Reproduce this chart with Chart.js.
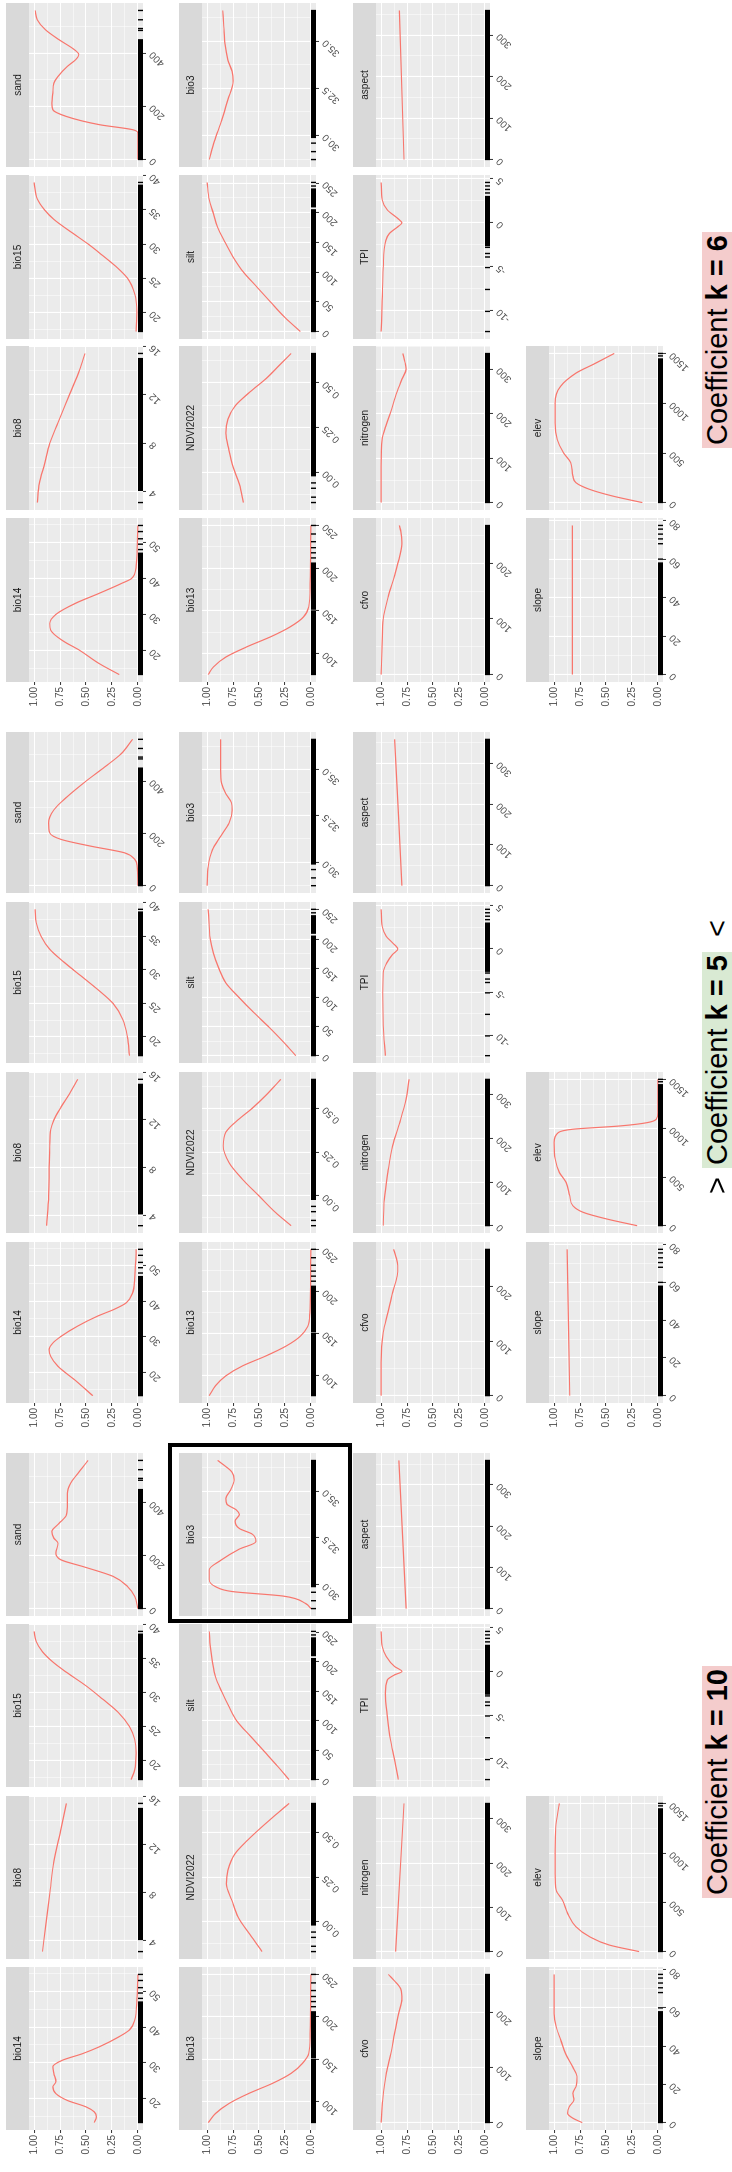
<!DOCTYPE html>
<html><head><meta charset="utf-8">
<script src="https://cdn.jsdelivr.net/npm/chart.js@4.4.1/dist/chart.umd.min.js"></script>
<style>
html,body{margin:0;padding:0;background:#fff;}
body{width:732px;height:2172px;position:relative;overflow:hidden;}
#fig{position:absolute;left:0;top:0;width:2172px;height:732px;transform-origin:0 0;transform:translate(0px,2172px) rotate(-90deg);background:#fff;font-family:"Liberation Sans",Arial,Helvetica,sans-serif;}
#fig canvas{position:absolute;}
.lab{position:absolute;top:702px;height:30px;line-height:30px;font-size:29px;color:#000;white-space:nowrap;padding:0 3px;}
.arrow{position:absolute;top:702px;height:30px;line-height:30px;font-size:29px;color:#000;}
#hl{position:absolute;border:4px solid #000;box-sizing:border-box;}
</style></head>
<body><div id="fig"></div>
<script>
// ---------- panel variables (facet order, row by row) ----------
const variables = ['bio14','bio8','bio15','sand','bio13','NDVI2022','silt','bio3','cfvo','nitrogen','TPI','aspect','slope','elev'];
const dataMin = [13.3, 3.1, 17.2, 0, 75.5, -0.17, 0, 28.73, 0, 0, -12.4, 0, 0, 0];
const dataMax = [54.7, 15.42, 39.0, 560, 250, 0.665, 251, 36.63, 268, 335, 4.6, 359, 77.5, 1505];

// ---------- x tick values and labels ----------
const tick_bio14 = [20,30,40,50];            const tlab_bio14 = ['20','30','40','50'];
const tick_bio8 = [4,8,12,16];               const tlab_bio8 = ['4','8','12','16'];
const tick_bio15 = [20,25,30,35,40];         const tlab_bio15 = ['20','25','30','35','40'];
const tick_sand = [0,200,400];               const tlab_sand = ['0','200','400'];
const tick_bio13 = [100,150,200,250];        const tlab_bio13 = ['100','150','200','250'];
const tick_NDVI2022 = [0,0.25,0.5];          const tlab_NDVI2022 = ['0.00','0.25','0.50'];
const tick_silt = [0,50,100,150,200,250];    const tlab_silt = ['0','50','100','150','200','250'];
const tick_bio3 = [30,32.5,35];              const tlab_bio3 = ['30.0','32.5','35.0'];
const tick_cfvo = [0,100,200];               const tlab_cfvo = ['0','100','200'];
const tick_nitrogen = [0,100,200,300];       const tlab_nitrogen = ['0','100','200','300'];
const tick_TPI = [-10,-5,0,5];               const tlab_TPI = ['-10','-5','0','5'];
const tick_aspect = [0,100,200,300];         const tlab_aspect = ['0','100','200','300'];
const tick_slope = [0,20,40,60,80];          const tlab_slope = ['0','20','40','60','80'];
const tick_elev = [0,500,1000,1500];         const tlab_elev = ['0','500','1000','1500'];
const yTickValues = [0,0.25,0.5,0.75,1];
const yTickLabels = ['0.00','0.25','0.50','0.75','1.00'];

// ---------- rug (observations): solid runs and isolated values ----------
const rugRun_bio14 = [[13.3,47]];            const rugPt_bio14 = [48,49.5,51,53,54.7];
const rugRun_bio8 = [[4.1,15.0]];            const rugPt_bio8 = [3.1,15.42];
const rugRun_bio15 = [[17.2,38.6]];          const rugPt_bio15 = [39.0];
const rugRun_sand = [[0,450]];               const rugPt_sand = [485,492,525,560];
const rugRun_bio13 = [[75.5,150],[152,206]]; const rugPt_bio13 = [212,218,224,231,240,250];
const rugRun_NDVI2022 = [[-0.02,0.665]];     const rugPt_NDVI2022 = [-0.17,-0.14,-0.09,-0.06];
const rugRun_silt = [[0,205],[210,240]];     const rugPt_silt = [245,251];
const rugRun_bio3 = [[29.9,36.63]];          const rugPt_bio3 = [28.73,29.15,29.6];
const rugRun_cfvo = [[0,268]];               const rugPt_cfvo = [];
const rugRun_nitrogen = [[0,335]];           const rugPt_nitrogen = [];
const rugRun_TPI = [[-2.6,3.0]];             const rugPt_TPI = [-12.4,-10.1,-7.6,-5.1,-3.9,-3.5,-2.8,3.4,3.8,4.2,4.6];
const rugRun_aspect = [[0,359]];             const rugPt_aspect = [];
const rugRun_slope = [[0,58]];               const rugPt_slope = [60,68,70.5,73,75.6,77.5];
const rugRun_elev = [[0,1450]];              const rugPt_elev = [1480,1505];

// ---------- response curves: Coefficient k = 10 ----------
const k10_bio14_x = [13.3,14.9,16.3,17.7,19.5,21.4,23.3,24.7,27,28.9,30.7,32.6,34.5,37.3,39.2,42,47.6,54.7];
const k10_bio14_y = [.42,.40,.42,.50,.68,.79,.82,.79,.81,.82,.73,.53,.37,.18,.08,.03,.01,0];
const k10_bio8_x = [3.1,5.2,7.9,10.6,13.35,15.42];
const k10_bio8_y = [.92,.89,.85,.81,.74,.69];
const k10_bio15_x = [17.2,18.6,21.1,23.1,25,27.1,29.05,31,33,34.5,36,37.5,39.0];
const k10_bio15_y = [.065,.03,.016,.03,.08,.19,.34,.50,.69,.82,.92,.98,1.0];
const k10_sand_x = [0,46,84,122,159,184,210,247,266,291,322,354,398,435,473,510,560];
const k10_sand_y = [0,.03,.10,.24,.53,.74,.79,.77,.81,.83,.76,.69,.68,.68,.65,.58,.48];
const k10_bio13_x = [75.5,86.2,98,109.8,121.7,133.5,145.3,157,180.7,250];
const k10_bio13_y = [.99,.92,.79,.60,.37,.19,.08,.02,.006,0];
const k10_NDVI2022_x = [-0.17,-0.072,0.023,0.117,0.212,0.288,0.383,0.458,0.534,0.61,0.665];
const k10_NDVI2022_y = [.47,.59,.70,.76,.815,.80,.73,.61,.47,.32,.21];
const k10_silt_x = [0,22.5,47.8,73,98.3,123.6,149,174,199.4,224.7,251];
const k10_silt_y = [.21,.32,.45,.58,.71,.79,.86,.92,.95,.97,.98];
const k10_bio3_x = [28.73,29.0,29.4,29.64,29.9,30.27,30.8,31.3,31.9,32.3,32.7,33.0,33.4,33.75,34.0,34.3,34.6,35.1,35.6,36.0,36.3,36.63];
const k10_bio3_y = [0,.05,.27,.76,.92,.98,.98,.87,.69,.53,.565,.69,.73,.69,.72,.81,.82,.77,.74,.76,.82,.90];
const k10_cfvo_x = [0,41,90,126,162,199,223,241,256,268];
const k10_cfvo_y = [1,.985,.95,.905,.87,.83,.80,.81,.87,.93];
const k10_nitrogen_x = [0,335];
const k10_nitrogen_y = [.86,.78];
const k10_TPI_x = [-12.4,-10.15,-7.85,-5.2,-2.5,-0.96,-0.38,0,0.57,1.72,2.87,4.6];
const k10_TPI_y = [.835,.87,.91,.94,.96,.94,.87,.80,.87,.95,.99,1];
const k10_aspect_x = [0,359];
const k10_aspect_y = [.76,.83];
const k10_slope_x = [0,2.3,4.9,8.3,11.8,15.3,19.6,24,29,36,43,50,57,77.5];
const k10_slope_y = [.73,.82,.87,.855,.81,.82,.785,.78,.82,.89,.935,.98,1.0,1.0];
const k10_elev_x = [0,67,152,253,388,522,623,792,1028,1264,1505];
const k10_elev_y = [.18,.47,.66,.79,.87,.92,.98,.99,.99,.985,.95];

// ---------- response curves: Coefficient k = 5 ----------
const k5_bio14_x = [13.3,17.8,21.6,24.4,26.3,28.2,30.1,33,35.8,37.7,39.6,42.4,46.2,54.7];
const k5_bio14_y = [.435,.61,.77,.84,.855,.82,.74,.58,.39,.23,.11,.05,.03,.016];
const k5_bio8_x = [3.1,5.6,8,9.8,11.2,12,13.1,14.2,15.42];
const k5_bio8_y = [.88,.86,.855,.85,.84,.81,.74,.66,.58];
const k5_bio15_x = [17.2,20,22.6,25,27.1,29.1,31.1,33.05,35,37,39.0];
const k5_bio15_y = [.08,.10,.145,.24,.39,.55,.71,.85,.935,.98,.99];
const k5_sand_x = [0,76,101,126,151,177,202,240,290,341,400,454,505,560];
const k5_sand_y = [0,.006,.03,.13,.45,.74,.85,.86,.81,.68,.50,.32,.16,.05];
const k5_bio13_x = [75.5,87.4,99.2,111,122.8,134.6,146.5,158,174,250];
const k5_bio13_y = [.98,.92,.82,.66,.435,.24,.10,.03,.01,0];
const k5_NDVI2022_x = [-0.17,-0.095,0,0.095,0.19,0.286,0.363,0.44,0.5,0.573,0.665];
const k5_NDVI2022_y = [.19,.34,.50,.66,.79,.845,.82,.69,.565,.435,.29];
const k5_silt_x = [0,22.7,48.3,73.9,99.4,125,150.6,176,199,221.6,251];
const k5_silt_y = [.145,.26,.40,.55,.69,.82,.89,.94,.97,.98,.99];
const k5_bio3_x = [28.73,29.77,30.66,31.4,32.1,32.8,33.2,33.7,34.25,34.96,36.63];
const k5_bio3_y = [1.0,.99,.95,.87,.79,.76,.765,.82,.86,.87,.87];
const k5_cfvo_x = [0,61,116,152,189,219.5,238,256,268];
const k5_cfvo_y = [1,1,.98,.935,.89,.845,.84,.86,.88];
const k5_nitrogen_x = [0,61,122,183,236.5,290,335];
const k5_nitrogen_y = [.98,.97,.935,.89,.82,.76,.73];
const k5_TPI_x = [-12.4,-8.9,-5.1,-2.8,-1.6,-0.65,0,0.7,1.46,2.6,4.6];
const k5_TPI_y = [.96,.98,.985,.98,.945,.89,.84,.89,.95,.99,1];
const k5_aspect_x = [0,359];
const k5_aspect_y = [.80,.87];
const k5_slope_x = [0,77.5];
const k5_slope_y = [.85,.875];
const k5_elev_x = [0,68,137,205,308,445,547,684,855,958,992,1026,1060,1094,1163,1505];
const k5_elev_y = [.20,.49,.72,.82,.85,.885,.95,.99,1.0,.96,.82,.36,.10,.016,0,0];

// ---------- response curves: Coefficient k = 6 ----------
const k6_bio14_x = [13.3,16.3,20,22.8,25.6,27.5,30,33.1,35.9,38.7,40,43.4,48,54.7];
const k6_bio14_y = [.18,.37,.56,.73,.84,.85,.79,.60,.37,.15,.06,.016,.006,0];
const k6_bio8_x = [3.1,4.7,6.3,8,9.7,12,14.1,15.42];
const k6_bio8_y = [.97,.95,.90,.85,.77,.66,.56,.51];
const k6_bio15_x = [17.2,20,22.7,25,26.7,28.7,30,31.6,33.6,35,36.6,39.0];
const k6_bio15_y = [.016,.01,.03,.10,.21,.37,.48,.63,.81,.90,.97,1.0];
const k6_sand_x = [0,100,112,131,162,187,212,250,287,312,350,375,394,412,450,487,525,560];
const k6_sand_y = [0,0,.048,.37,.69,.82,.83,.82,.81,.77,.68,.60,.57,.61,.76,.89,.97,.99];
const k6_bio13_x = [75.5,84.3,96,107.8,119.6,131.3,143,154.8,182,250];
const k6_bio13_y = [.99,.94,.82,.62,.39,.20,.07,.02,.006,0];
const k6_NDVI2022_x = [-0.17,-0.067,0.029,0.124,0.219,0.296,0.372,0.448,0.525,0.601,0.665];
const k6_NDVI2022_y = [.65,.69,.75,.79,.82,.80,.73,.59,.43,.30,.19];
const k6_silt_x = [0,23.8,50,75,100,125.6,151,176,199,222,251];
const k6_silt_y = [.10,.25,.39,.52,.65,.75,.83,.90,.94,.98,1.0];
const k6_bio3_x = [28.73,29.7,30.8,31.9,32.9,33.4,34.0,34.9,35.8,36.63];
const k6_bio3_y = [.98,.93,.86,.80,.75,.76,.80,.83,.84,.85];
const k6_cfvo_x = [0,56,100,141,178,214,238,257,268];
const k6_cfvo_y = [1,.99,.98,.93,.87,.82,.80,.81,.825];
const k6_nitrogen_x = [0,82,142,172,202,247,277,300,315,335];
const k6_nitrogen_y = [1,1,.99,.955,.91,.85,.80,.76,.77,.79];
const k6_TPI_x = [-12.4,-8.9,-5.1,-2.0,-1.2,-0.46,0,0.5,1.46,2.6,4.6];
const k6_TPI_y = [1,.99,.98,.955,.92,.84,.80,.84,.94,.99,1];
const k6_aspect_x = [0,359];
const k6_aspect_y = [.78,.825];
const k6_slope_x = [0,77.5];
const k6_slope_y = [.825,.825];
const k6_elev_x = [0,67,134,201,268,402,502,636,804,1005,1172,1306,1407,1505];
const k6_elev_y = [.15,.44,.66,.79,.82,.84,.91,.97,.99,.99,.94,.79,.60,.42];

// ---------- assemble lookups ----------
const xTicks = {bio14:[tick_bio14,tlab_bio14],bio8:[tick_bio8,tlab_bio8],bio15:[tick_bio15,tlab_bio15],sand:[tick_sand,tlab_sand],
  bio13:[tick_bio13,tlab_bio13],NDVI2022:[tick_NDVI2022,tlab_NDVI2022],silt:[tick_silt,tlab_silt],bio3:[tick_bio3,tlab_bio3],
  cfvo:[tick_cfvo,tlab_cfvo],nitrogen:[tick_nitrogen,tlab_nitrogen],TPI:[tick_TPI,tlab_TPI],aspect:[tick_aspect,tlab_aspect],
  slope:[tick_slope,tlab_slope],elev:[tick_elev,tlab_elev]};
const rugs = {bio14:[rugRun_bio14,rugPt_bio14],bio8:[rugRun_bio8,rugPt_bio8],bio15:[rugRun_bio15,rugPt_bio15],sand:[rugRun_sand,rugPt_sand],
  bio13:[rugRun_bio13,rugPt_bio13],NDVI2022:[rugRun_NDVI2022,rugPt_NDVI2022],silt:[rugRun_silt,rugPt_silt],bio3:[rugRun_bio3,rugPt_bio3],
  cfvo:[rugRun_cfvo,rugPt_cfvo],nitrogen:[rugRun_nitrogen,rugPt_nitrogen],TPI:[rugRun_TPI,rugPt_TPI],aspect:[rugRun_aspect,rugPt_aspect],
  slope:[rugRun_slope,rugPt_slope],elev:[rugRun_elev,rugPt_elev]};
const curves = {
  k10:{bio14:[k10_bio14_x,k10_bio14_y],bio8:[k10_bio8_x,k10_bio8_y],bio15:[k10_bio15_x,k10_bio15_y],sand:[k10_sand_x,k10_sand_y],
       bio13:[k10_bio13_x,k10_bio13_y],NDVI2022:[k10_NDVI2022_x,k10_NDVI2022_y],silt:[k10_silt_x,k10_silt_y],bio3:[k10_bio3_x,k10_bio3_y],
       cfvo:[k10_cfvo_x,k10_cfvo_y],nitrogen:[k10_nitrogen_x,k10_nitrogen_y],TPI:[k10_TPI_x,k10_TPI_y],aspect:[k10_aspect_x,k10_aspect_y],
       slope:[k10_slope_x,k10_slope_y],elev:[k10_elev_x,k10_elev_y]},
  k5:{bio14:[k5_bio14_x,k5_bio14_y],bio8:[k5_bio8_x,k5_bio8_y],bio15:[k5_bio15_x,k5_bio15_y],sand:[k5_sand_x,k5_sand_y],
       bio13:[k5_bio13_x,k5_bio13_y],NDVI2022:[k5_NDVI2022_x,k5_NDVI2022_y],silt:[k5_silt_x,k5_silt_y],bio3:[k5_bio3_x,k5_bio3_y],
       cfvo:[k5_cfvo_x,k5_cfvo_y],nitrogen:[k5_nitrogen_x,k5_nitrogen_y],TPI:[k5_TPI_x,k5_TPI_y],aspect:[k5_aspect_x,k5_aspect_y],
       slope:[k5_slope_x,k5_slope_y],elev:[k5_elev_x,k5_elev_y]},
  k6:{bio14:[k6_bio14_x,k6_bio14_y],bio8:[k6_bio8_x,k6_bio8_y],bio15:[k6_bio15_x,k6_bio15_y],sand:[k6_sand_x,k6_sand_y],
       bio13:[k6_bio13_x,k6_bio13_y],NDVI2022:[k6_NDVI2022_x,k6_NDVI2022_y],silt:[k6_silt_x,k6_silt_y],bio3:[k6_bio3_x,k6_bio3_y],
       cfvo:[k6_cfvo_x,k6_cfvo_y],nitrogen:[k6_nitrogen_x,k6_nitrogen_y],TPI:[k6_TPI_x,k6_TPI_y],aspect:[k6_aspect_x,k6_aspect_y],
       slope:[k6_slope_x,k6_slope_y],elev:[k6_elev_x,k6_elev_y]}
};

// ---------- layout (in the unrotated figure, 2172 x 732) ----------
const FF = '"Liberation Sans", Arial, Helvetica, sans-serif';
const STRIP = 23, PH = 114, XAX = 34, PADL = 34, PADR = 14, YAX = 30;
const rowTop = [6, 179, 353, 526];
const groups = [
  {key:'k10', lefts:[42,213,385,556], w:163},
  {key:'k5',  lefts:[769,939,1109,1279], w:161},
  {key:'k6',  lefts:[1490,1662,1833,2005], w:164}
];

const fig = document.getElementById('fig');

const ggPlugin = {
  id: 'gg',
  beforeDraw(chart, args, o) {
    const {ctx, chartArea: a} = chart;
    ctx.save();
    ctx.fillStyle = '#EBEBEB';
    ctx.fillRect(a.left, a.top, a.right - a.left, a.bottom - a.top);
    ctx.fillStyle = '#D9D9D9';
    ctx.fillRect(a.left, a.top - STRIP, a.right - a.left, STRIP);
    ctx.fillStyle = '#1A1A1A';
    ctx.font = '10px ' + FF;
    ctx.textAlign = 'center';
    ctx.textBaseline = 'middle';
    ctx.fillText(o.title, (a.left + a.right) / 2, a.top - STRIP / 2 + 0.5);
    ctx.restore();
  },
  afterDatasetsDraw(chart, args, o) {
    const {ctx, chartArea: a} = chart;
    const xs = chart.scales.x;
    ctx.save();
    ctx.beginPath();
    ctx.rect(a.left, a.top, a.right - a.left, a.bottom - a.top);
    ctx.clip();
    ctx.fillStyle = '#000';
    for (const [s, e] of o.runs) {
      const p1 = xs.getPixelForValue(s), p2 = xs.getPixelForValue(e);
      ctx.fillRect(Math.min(p1, p2) - 0.6, a.bottom - 5, Math.abs(p2 - p1) + 1.2, 5);
    }
    for (const v of o.pts) {
      const p = xs.getPixelForValue(v);
      ctx.fillRect(p - 0.7, a.bottom - 5, 1.4, 5);
    }
    ctx.restore();
  }
};

function buildTicks(major, labels, lo, hi) {
  const out = [];
  const step = major.length > 1 ? major[1] - major[0] : 1;
  const cand = [];
  major.forEach((v, i) => cand.push({value: v, major: true, lab: labels[i]}));
  for (let i = -1; i < major.length; i++) {
    const m = (i < 0 ? major[0] - step / 2 : major[i] + step / 2);
    cand.push({value: m, major: false, lab: ''});
  }
  cand.filter(t => t.value >= lo && t.value <= hi).sort((p, q) => p.value - q.value).forEach(t => out.push(t));
  return out;
}

function makePanel(g, vi) {
  const name = variables[vi];
  const row = Math.floor(vi / 4), col = vi % 4;
  const span = dataMax[vi] - dataMin[vi];
  const lo = dataMin[vi] - 0.05 * span, hi = dataMax[vi] + 0.05 * span;
  const cv = document.createElement('canvas');
  const W = PADL + g.w + PADR, H = STRIP + PH + XAX;
  cv.width = W; cv.height = H;
  cv.style.left = (g.lefts[col] - PADL) + 'px';
  cv.style.top = rowTop[row] + 'px';
  cv.style.width = W + 'px'; cv.style.height = H + 'px';
  fig.appendChild(cv);
  const [cx, cy] = curves[g.key][name];
  const [tv, tl] = xTicks[name];
  const first = col === 0;
  const gridW = c => (c.tick && c.tick.major) ? 1.1 : 0.5;
  const tickC = c => (c.tick && c.tick.major) ? '#333333' : 'rgba(0,0,0,0)';
  new Chart(cv, {
    type: 'line',
    data: {datasets: [{
      data: cx.map((x, i) => ({x: x, y: cy[i]})),
      borderColor: '#F8766D', borderWidth: 1.2, pointRadius: 0, fill: false,
      cubicInterpolationMode: 'monotone'
    }]},
    options: {
      responsive: false, animation: false, events: [],
      layout: {padding: {left: first ? PADL - YAX : PADL, right: PADR, top: STRIP, bottom: 0}},
      plugins: {legend: {display: false}, tooltip: {enabled: false}, title: {display: false},
        gg: {title: name, runs: rugs[name][0], pts: rugs[name][1]}},
      scales: {
        x: {
          type: 'linear', min: lo, max: hi,
          afterBuildTicks: s => { s.ticks = buildTicks(tv, tl, lo, hi); },
          afterFit: s => { s.height = XAX; s.paddingLeft = 0; s.paddingRight = 0; },
          ticks: {autoSkip: false, minRotation: 45, maxRotation: 45, padding: 1, color: '#4D4D4D',
            font: {size: 10, family: FF}, callback: (v, i, t) => t[i].lab},
          grid: {color: '#FFFFFF', lineWidth: gridW, tickColor: tickC, tickLength: 3, tickWidth: 1},
          border: {display: false}
        },
        y: {
          type: 'linear', min: -0.05, max: 1.05,
          afterBuildTicks: s => { s.ticks = buildTicks(yTickValues, yTickLabels, -0.05, 1.05); },
          afterFit: s => { s.width = first ? YAX : 0; s.paddingTop = 0; s.paddingBottom = 0; },
          ticks: {display: first, autoSkip: false, padding: 2, color: '#4D4D4D',
            font: {size: 10, family: FF}, callback: (v, i, t) => t[i].lab},
          grid: {color: '#FFFFFF', lineWidth: gridW, tickColor: tickC, tickLength: 3, tickWidth: 1, drawTicks: first},
          border: {display: false}
        }
      }
    },
    plugins: [ggPlugin]
  });
}

groups.forEach(g => variables.forEach((v, i) => makePanel(g, i)));

// highlight box around the k = 10 bio3 panel
const hl = document.createElement('div');
hl.id = 'hl';
hl.style.left = '549px'; hl.style.top = '168px'; hl.style.width = '180px'; hl.style.height = '184px';
fig.appendChild(hl);

// group captions
function caption(left, bg, plain, bold) {
  const d = document.createElement('div');
  d.className = 'lab';
  d.style.left = left + 'px';
  d.style.background = bg;
  d.innerHTML = plain + '<b>' + bold + '</b>';
  fig.appendChild(d);
}
caption(274, '#F4CCCC', 'Coefficient ', 'k = 10');
caption(1004, '#D9EAD3', 'Coefficient ', 'k = 5');
caption(1724, '#F4CCCC', 'Coefficient ', 'k = 6');
function arrow(left, ch) {
  const d = document.createElement('div');
  d.className = 'arrow';
  d.style.left = left + 'px';
  d.textContent = ch;
  fig.appendChild(d);
}
arrow(978, '>');
arrow(1235, '<');
</script></body></html>
